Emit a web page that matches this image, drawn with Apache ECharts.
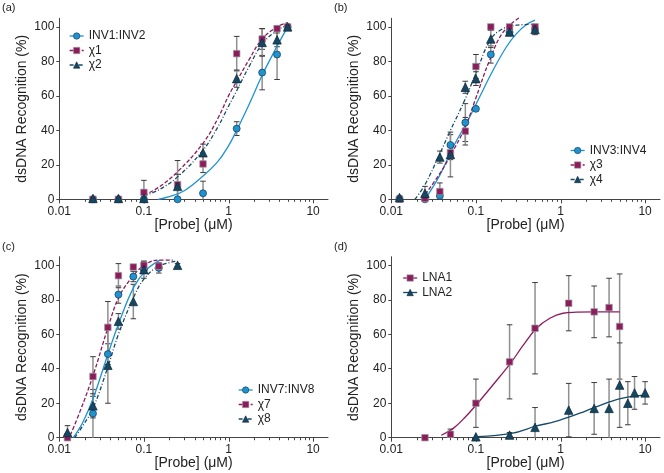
<!DOCTYPE html>
<html><head><meta charset="utf-8">
<script src="https://cdn.jsdelivr.net/npm/echarts@6/dist/echarts.min.js"></script>
<style>html,body{margin:0;padding:0;background:#fff}#c{width:664px;height:473px}</style>
</head><body><div id="c"></div>
<script>
// ---------- Tick values ----------
const xMajorTicks = [0.01, 0.1, 1, 10];
const xMinorTicks = [0.02,0.03,0.04,0.05,0.06,0.07,0.08,0.09,0.2,0.3,0.4,0.5,0.6,0.7,0.8,0.9,2,3,4,5,6,7,8,9];
const yTicks = [0, 20, 40, 60, 80, 100];

// ---------- Panel (a) ----------
const concA = [0.025, 0.05, 0.1, 0.25, 0.5, 1.25, 2.5, 3.75, 5];
const inv12 = [0, 0, 0, 0, 3.5, 41, 73.5, 84, 100];
const inv12Err = [0, 0, 0, 0, 7, 4, 10, 14.5, 0];
const chi1 = [0, 0, 4, 8.5, 20.5, 84.5, 93, 99, 100];
const chi1Err = [0, 0, 7, 14, 5, 10, 6, 1.5, 0];
const chi2 = [0.5, 0.5, 0.5, 7.5, 27, 70, 91, 92.5, 100];
const chi2Err = [0, 0, 1, 7, 5, 5, 8, 4, 0];
const fitInv12X = [0.147, 0.2, 0.3, 0.5, 0.75, 1, 1.25, 1.75, 2.5, 3.5, 5];
const fitInv12Y = [0, 1.5, 5, 13.5, 22, 31, 40, 55, 72, 86, 100];
const fitChi1X = [0.1, 0.15, 0.25, 0.5, 0.75, 1, 1.25, 1.75, 2.5, 3.75, 5];
const fitChi1Y = [2.5, 7, 16, 32.5, 47, 60, 68.5, 81, 93, 100, 102.5];
const fitChi2X = [0.1, 0.15, 0.25, 0.5, 0.75, 1, 1.25, 1.75, 2.5, 3.75, 5];
const fitChi2Y = [2, 5.5, 13, 28.5, 42, 54, 63, 77, 90, 98, 101];

// ---------- Panel (b) ----------
const concB = [0.0125, 0.025, 0.0375, 0.05, 0.075, 0.1, 0.15, 0.25, 0.5];
const inv34 = [0.5, 0, 2, 31.5, 44.5, 52.5, 84, 97, 98.5];
const inv34Err = [0, 0, 0, 6, 11, 1, 5, 2, 2];
const chi3 = [0, 0.5, 4.5, 27, 39.5, 77, 100, 100, 100];
const chi3Err = [0, 0, 5, 4, 8, 7, 0, 0, 1];
const chi4 = [1, 3.5, 24.5, 26, 65, 70, 93, 97, 98.5];
const chi4Err = [0, 4, 3.5, 13, 3.5, 4, 5, 2, 3];
const fitInv34X = [0.025, 0.0375, 0.054, 0.081, 0.111, 0.16, 0.23, 0.3, 0.4, 0.5];
const fitInv34Y = [0, 14, 30.5, 46, 59.5, 75, 88.5, 96, 101.5, 104];
const fitChi3X = [0.0229, 0.0375, 0.0516, 0.075, 0.097, 0.146, 0.21, 0.33];
const fitChi3Y = [0, 15, 26.6, 42, 57, 81, 97, 105.5];
const fitChi4X = [0.019, 0.025, 0.0376, 0.05, 0.0708, 0.1, 0.146, 0.2, 0.3, 0.5];
const fitChi4Y = [0, 8.5, 26.6, 40, 55.6, 73, 92, 98.5, 101, 101.5];

// ---------- Panel (c) ----------
const concC = [0.0125, 0.025, 0.0375, 0.05, 0.075, 0.1, 0.15, 0.25];
const inv78 = [1, 14, 48.5, 83, 93.5, 97.5, 98.5, null];
const inv78Err = [1, 14, 6, 5, 3, 5, 3, 0];
const chi7 = [0, 35.5, 64, 94, 99, 100, 99.5, null];
const chi7Err = [0, 11.5, 15, 7, 1, 2, 1, 0];
const chi8 = [3, 18.5, 42, 67.5, 79, 97.5, null, 100];
const chi8Err = [4, 7, 22, 4.5, 10, 2, 0, 1];
const fitInv78X = [0.0146, 0.019, 0.0252, 0.0379, 0.051, 0.0762, 0.1076, 0.155];
const fitInv78Y = [0, 9, 23, 49, 67, 87.5, 97.5, 103];
const fitChi7X = [0.0135, 0.0175, 0.0252, 0.0379, 0.051, 0.0762, 0.1076, 0.15, 0.22];
const fitChi7Y = [1.5, 15, 36.4, 64.4, 81.8, 94.4, 101, 103, 103];
const fitChi8X = [0.0152, 0.019, 0.025, 0.0375, 0.05, 0.075, 0.1, 0.15, 0.25];
const fitChi8Y = [0, 7, 17, 41, 60, 81, 92, 99.5, 102.5];

// ---------- Panel (d) ----------
const concD = [0.025, 0.05, 0.1, 0.25, 0.5, 1.25, 2.5, 3.75, 5, 6.25, 7.5, 10];
const lna1 = [0, 2, 20, 44, 63.5, 78, 73, 75.5, 64.5, null, null, null];
const lna1Err = [0, 3, 14, 21.5, 26.5, 16, 15, 17, 30.5, 0, 0, 0];
const lna2 = [null, null, 0.5, 1.5, 6, 16, 17, 17, 30.5, 20, 26, 26];
const lna2Err = [0, 0, 0, 1.5, 11.5, 15.5, 15, 17, 24.5, 12.5, 9.5, 6.5];
const fitLna1X = [0.039, 0.054, 0.075, 0.105, 0.192, 0.264, 0.361, 0.52, 0.748, 1.07, 1.55, 2.5, 5];
const fitLna1Y = [1.4, 5.4, 12, 20, 35.5, 44, 53.5, 63.5, 69.3, 72.2, 72.8, 73, 73];
const fitLna2X = [0.1047, 0.264, 0.52, 0.857, 1.69, 2.54, 5.25, 10];
const fitLna2Y = [0.6, 2.5, 6.8, 9.3, 14.2, 17.6, 22.8, 24.7];

// ---------- Styles ----------
const BLUE = '#1f93d1', PURPLE = '#8c1c5e', TEAL = '#164b68';
const FONT = 'Liberation Sans, Arial, sans-serif';
const styles = {
  circle:   { symbol: 'circle',   size: 7,   fill: BLUE,   border: '#12384f', line: BLUE,   dash: 'solid' },
  square:   { symbol: 'rect',     size: 6.5, fill: PURPLE, border: '#9a9a9a', line: PURPLE, dash: [4, 2] },
  triangle: { symbol: 'triangle', size: 8.5, fill: '#154763', border: '#0c2535', line: TEAL, dash: [4, 2, 1, 2] },
  squareSolid:   { symbol: 'rect',     size: 6.5, fill: PURPLE, border: '#9a9a9a', line: PURPLE, dash: 'solid' },
  triangleSolid: { symbol: 'triangle', size: 8.5, fill: '#154763', border: '#0c2535', line: TEAL, dash: 'solid' }
};

const panels = [
  { letter: '(a)', grid: { left: 59.3, top: 18.3 }, legend: { left: 69, top: 30 }, sets: [
    { name: 'INV1:INV2', x: concA, y: inv12, err: inv12Err, fx: fitInv12X, fy: fitInv12Y, st: styles.circle },
    { name: 'χ1', x: concA, y: chi1, err: chi1Err, fx: fitChi1X, fy: fitChi1Y, st: styles.square },
    { name: 'χ2', x: concA, y: chi2, err: chi2Err, fx: fitChi2X, fy: fitChi2Y, st: styles.triangle } ] },
  { letter: '(b)', grid: { left: 391.3, top: 18.3 }, legend: { left: 570, top: 144.5 }, sets: [
    { name: 'INV3:INV4', x: concB, y: inv34, err: inv34Err, fx: fitInv34X, fy: fitInv34Y, st: styles.circle },
    { name: 'χ3', x: concB, y: chi3, err: chi3Err, fx: fitChi3X, fy: fitChi3Y, st: styles.square },
    { name: 'χ4', x: concB, y: chi4, err: chi4Err, fx: fitChi4X, fy: fitChi4Y, st: styles.triangle } ] },
  { letter: '(c)', grid: { left: 59.3, top: 256.7 }, legend: { left: 238, top: 384 }, sets: [
    { name: 'INV7:INV8', x: concC, y: inv78, err: inv78Err, fx: fitInv78X, fy: fitInv78Y, st: styles.circle },
    { name: 'χ7', x: concC, y: chi7, err: chi7Err, fx: fitChi7X, fy: fitChi7Y, st: styles.square },
    { name: 'χ8', x: concC, y: chi8, err: chi8Err, fx: fitChi8X, fy: fitChi8Y, st: styles.triangle } ] },
  { letter: '(d)', grid: { left: 391.3, top: 256.7 }, legend: { left: 402.5, top: 272 }, sets: [
    { name: 'LNA1', x: concD, y: lna1, err: lna1Err, fx: fitLna1X, fy: fitLna1Y, st: styles.squareSolid },
    { name: 'LNA2', x: concD, y: lna2, err: lna2Err, fx: fitLna2X, fy: fitLna2Y, st: styles.triangleSolid } ] }
];

function errRender(params, api) {
  const x = api.value(0), lo = api.value(1), hi = api.value(2);
  const a = api.coord([x, lo]), b = api.coord([x, hi]);
  const hw = 2.8;
  const kids = [
    { type: 'line', shape: { x1: a[0], y1: a[1], x2: b[0], y2: b[1] }, style: { stroke: '#8f8f8f', lineWidth: 1.5 } },
    { type: 'line', shape: { x1: b[0] - hw, y1: b[1], x2: b[0] + hw, y2: b[1] }, style: { stroke: '#3a3a3a', lineWidth: 1 } }
  ];
  if (lo > 0) kids.push({ type: 'line', shape: { x1: a[0] - hw, y1: a[1], x2: a[0] + hw, y2: a[1] }, style: { stroke: '#3a3a3a', lineWidth: 1 } });
  return { type: 'group', children: kids };
}
function tickRender(params, api) {
  const p = api.coord([api.value(0), 0]);
  const len = api.value(1);
  const x = Math.round(p[0]) + 0.5;
  return { type: 'line', shape: { x1: x, y1: p[1], x2: x, y2: p[1] + len }, style: { stroke: '#444', lineWidth: 1 } };
}

const option = { animation: false, title: [], grid: [], xAxis: [], yAxis: [], legend: [], series: [] };
const textColor = '#222';
panels.forEach((p, i) => {
  option.title.push({ text: p.letter, left: p.grid.left - 57.3, top: p.grid.top - 15.5, padding: 0,
    textStyle: { fontSize: 11, fontWeight: 'normal', color: textColor, fontFamily: FONT } });
  option.grid.push({ left: p.grid.left, top: p.grid.top, width: 268.7, height: 181 });
  option.xAxis.push({ type: 'log', logBase: 10, gridIndex: i, min: 0.01, max: 15,
    name: '[Probe] (μM)', nameLocation: 'middle', nameGap: 9,
    nameTextStyle: { fontSize: 14, color: textColor, fontFamily: FONT },
    axisLine: { lineStyle: { color: '#444', width: 1 } },
    axisTick: { show: false }, splitLine: { show: false }, minorTick: { show: false },
    axisLabel: { fontSize: 12, color: textColor, fontFamily: FONT, margin: 6, showMaxLabel: false } });
  option.yAxis.push({ type: 'value', gridIndex: i, min: 0, max: 105, interval: 20,
    name: 'dsDNA Recognition (%)', nameLocation: 'middle', nameGap: 30,
    nameTextStyle: { fontSize: 14, color: textColor, fontFamily: FONT },
    axisLine: { show: true, lineStyle: { color: '#444', width: 1 } },
    axisTick: { show: true, length: 3, customValues: yTicks, lineStyle: { color: '#444' } },
    splitLine: { show: false },
    axisLabel: { fontSize: 12, color: textColor, fontFamily: FONT, margin: 5, customValues: yTicks } });
  option.legend.push({ orient: 'vertical', left: p.legend.left, top: p.legend.top, padding: 0,
    itemWidth: 14, itemHeight: 8, itemGap: 2.5, selectedMode: false,
    itemStyle: { borderWidth: 0.6 },
    textStyle: { fontSize: 12, color: textColor, fontFamily: FONT, padding: [0, 0, 0, 0] },
    data: p.sets.map(s => ({ name: s.name, lineStyle: { color: s.st.line, width: 1.3, type: s.st.dash, opacity: 1 } })) });
  // axis ticks (major + minor) on the log x axis
  option.series.push({ type: 'custom', xAxisIndex: i, yAxisIndex: i, silent: true, clip: false, z: 1,
    renderItem: tickRender, encode: { x: 0, y: 1 },
    data: xMajorTicks.map(v => [v, 4]).concat(xMinorTicks.map(v => [v, 2.5])) });
  // error bars
  p.sets.forEach(s => {
    const d = [];
    s.x.forEach((c, k) => { if (s.y[k] != null && s.err[k] > 0) d.push([c, Math.max(0, s.y[k] - s.err[k]), s.y[k] + s.err[k]]); });
    option.series.push({ type: 'custom', name: s.name + ' err', xAxisIndex: i, yAxisIndex: i, silent: true, z: 2,
      renderItem: errRender, encode: { x: 0, y: [1, 2] }, data: d });
  });
  // fitted curves
  p.sets.forEach(s => {
    option.series.push({ type: 'line', name: s.name + ' fit', xAxisIndex: i, yAxisIndex: i, silent: true, z: 3,
      showSymbol: false, smooth: 0.4, clip: false,
      lineStyle: { color: s.st.line, width: 1.3, type: s.st.dash },
      data: s.fx.map((v, k) => [v, s.fy[k]]) });
  });
  // data points
  p.sets.forEach((s, j) => {
    option.series.push({ type: 'line', name: s.name, xAxisIndex: i, yAxisIndex: i, z: 4 + j,
      symbol: s.st.symbol, symbolSize: s.st.size, showSymbol: true, showAllSymbol: true,
      lineStyle: { width: 0, opacity: 0, color: s.st.line },
      itemStyle: { color: s.st.fill, borderColor: s.st.border, borderWidth: 0.7, opacity: 1 },
      data: s.x.map((c, k) => [c, s.y[k]]).filter(q => q[1] != null) });
  });
});

const chart = echarts.init(document.getElementById('c'), null, { renderer: 'canvas' });
chart.setOption(option);
</script>
</body></html>
